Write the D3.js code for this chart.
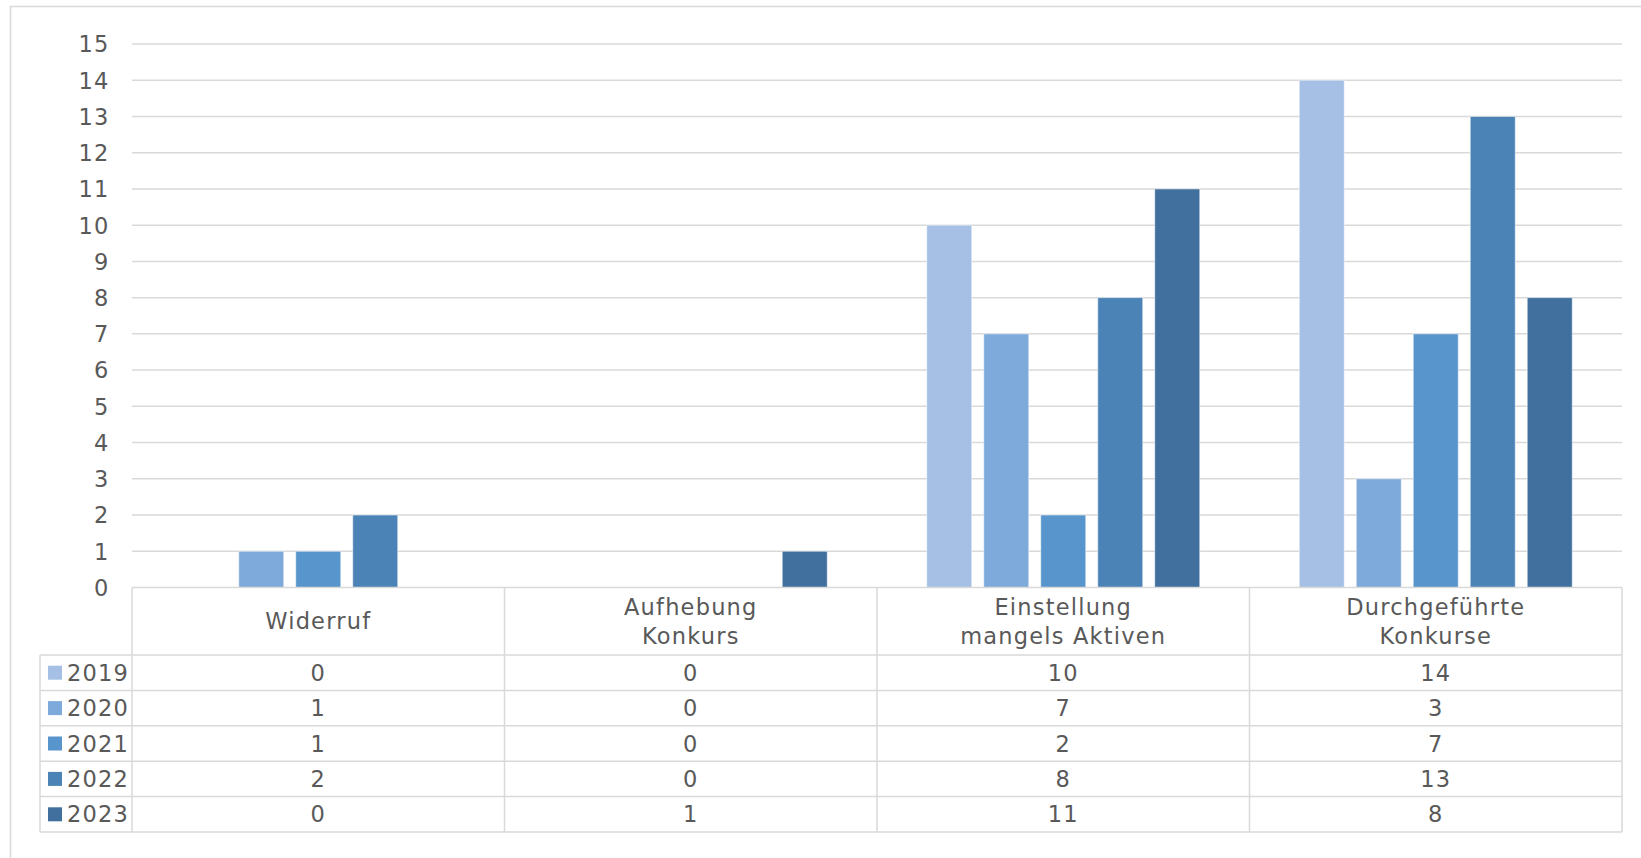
<!DOCTYPE html>
<html>
<head>
<meta charset="utf-8">
<script src="https://cdn.jsdelivr.net/npm/d3@7"></script>
<style>
  html, body { margin: 0; padding: 0; background: #fff; }
  svg { display: block; }
  text { font-family: "DejaVu Sans", "Open Sans", sans-serif; fill: #595959; }
</style>
</head>
<body>
<svg id="chart" width="1641" height="858"></svg>
<script>
const categories = [["Widerruf"], ["Aufhebung", "Konkurs"], ["Einstellung", "mangels Aktiven"], ["Durchgeführte", "Konkurse"]];
const years = ["2019", "2020", "2021", "2022", "2023"];
const v2019 = [0, 0, 10, 14];
const v2020 = [1, 0, 7, 3];
const v2021 = [1, 0, 2, 7];
const v2022 = [2, 0, 8, 13];
const v2023 = [0, 1, 11, 8];
const seriesValues = [v2019, v2020, v2021, v2022, v2023];
const colors = ["#A5C0E4", "#7DAADB", "#5795CC", "#4C83B6", "#41709E"];
const yTicks = d3.range(0, 16);

(function () {
const svg = d3.select("#chart");
const plotLeft = 132, plotRight = 1622, plotTop = 44, base = 587.5;
const rowH = 35.4, headH = 67.5;
const fs = 22.5, ls = "1.2px";

// outer frame
svg.append("rect").attr("x", 10.5).attr("y", 6.5).attr("width", 1700).attr("height", 900)
  .attr("fill", "none").attr("stroke", "#d9d9d9").attr("stroke-width", 1.5);

const catIdx = categories.map((c, i) => i);
const x0 = d3.scaleBand().domain(catIdx).range([plotLeft, plotRight]).padding(0);
const x1 = d3.scaleBand().domain(years).range([0, x0.bandwidth()]).paddingInner(0.2105).paddingOuter(0.873);
const y = d3.scaleLinear().domain([0, 15]).range([base, plotTop]);

// gridlines
svg.append("g").selectAll("line").data(yTicks.filter(t => t > 0)).join("line")
  .attr("x1", plotLeft).attr("x2", plotRight)
  .attr("y1", d => y(d)).attr("y2", d => y(d))
  .attr("stroke", "#d9d9d9").attr("stroke-width", 1.5);

// y axis labels
const yAxis = d3.axisLeft(y).tickValues(yTicks).tickSize(0).tickPadding(0).tickFormat(d3.format("d"));
const gy = svg.append("g").attr("transform", "translate(109.5,0)").call(yAxis);
gy.select(".domain").remove();
gy.selectAll("text").style("font-size", fs + "px").attr("fill", "#595959")
  .style("font-family", '"DejaVu Sans", sans-serif').style("letter-spacing", ls).attr("dy", "0.35em");

// bars
years.forEach((yr, si) => {
  svg.append("g").selectAll("rect").data(seriesValues[si].map((v, ci) => ({ v, ci })).filter(d => d.v > 0)).join("rect")
    .attr("x", d => x0(d.ci) + x1(yr))
    .attr("width", x1.bandwidth())
    .attr("y", d => y(d.v))
    .attr("height", d => y(0) - y(d.v))
    .attr("fill", colors[si])
    .attr("stroke", "#ffffff").attr("stroke-opacity", 0.5).attr("stroke-width", 1);
});

// table
const tbl = svg.append("g");
const lineC = "#d9d9d9";
const tLeft = 40;
const rowsTop = base + headH;
const bottom = rowsTop + rowH * years.length;
tbl.append("line").attr("x1", plotLeft).attr("x2", plotRight).attr("y1", base).attr("y2", base).attr("stroke", lineC).attr("stroke-width", 1.5);
d3.range(years.length + 1).forEach(i => {
  tbl.append("line").attr("x1", tLeft).attr("x2", plotRight)
    .attr("y1", rowsTop + i * rowH).attr("y2", rowsTop + i * rowH)
    .attr("stroke", lineC).attr("stroke-width", 1.5);
});
tbl.append("line").attr("x1", tLeft).attr("x2", tLeft).attr("y1", rowsTop).attr("y2", bottom).attr("stroke", lineC).attr("stroke-width", 1.5);
[plotLeft, ...catIdx.map(i => x0(i) + x0.bandwidth())].forEach(xx => {
  tbl.append("line").attr("x1", xx).attr("x2", xx).attr("y1", base).attr("y2", bottom).attr("stroke", lineC).attr("stroke-width", 1.5);
});
categories.forEach((lines, ci) => {
  const cx = x0(ci) + x0.bandwidth() / 2;
  const cy = base + headH / 2;
  const lh = 29;
  lines.forEach((ln, li) => {
    tbl.append("text").attr("x", cx).attr("y", cy + (li - (lines.length - 1) / 2) * lh)
      .attr("dy", "0.36em").attr("text-anchor", "middle").style("font-size", fs + "px").style("letter-spacing", ls).text(ln);
  });
});
years.forEach((yr, si) => {
  const cy = rowsTop + si * rowH + rowH / 2;
  tbl.append("rect").attr("x", 48).attr("y", cy - 7).attr("width", 14).attr("height", 14).attr("fill", colors[si]);
  tbl.append("text").attr("x", 67).attr("y", cy).attr("dy", "0.36em").style("font-size", fs + "px").style("letter-spacing", ls).text(yr);
  seriesValues[si].forEach((v, ci) => {
    tbl.append("text").attr("x", x0(ci) + x0.bandwidth() / 2).attr("y", cy).attr("dy", "0.36em")
      .attr("text-anchor", "middle").style("font-size", fs + "px").style("letter-spacing", ls).text(v);
  });
});
})();
</script>
</body>
</html>
